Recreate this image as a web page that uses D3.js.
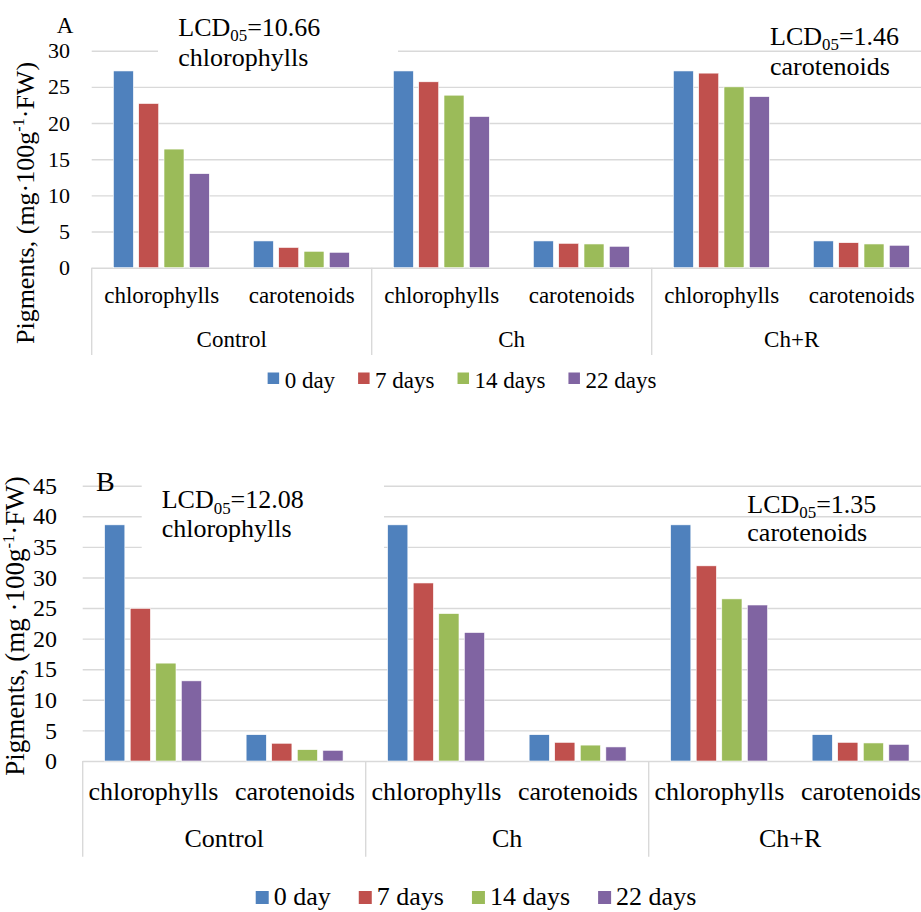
<!DOCTYPE html>
<html>
<head>
<meta charset="utf-8">
<script src="https://cdn.jsdelivr.net/npm/d3@7"></script>
<style>
  body { margin: 0; background: #fff; }
  svg { display: block; }
</style>
</head>
<body>
<div id="chart"></div>
<script>
// ---- data ----
const groups = ["Control", "Ch", "Ch+R"];
const pigments = ["chlorophylls", "carotenoids"];
const series = ["0 day", "7 days", "14 days", "22 days"];
const colors = ["#4f81bd", "#c0504d", "#9bbb59", "#8064a2"];

// values[group][pigment][series]
const valuesA = [
  [[27.2, 22.7, 16.4, 13.0], [3.7, 2.8, 2.27, 2.13]],
  [[27.2, 25.7, 23.85, 20.9], [3.7, 3.37, 3.28, 2.96]],
  [[27.2, 26.9, 25.0, 23.65], [3.7, 3.46, 3.28, 3.1]]
];
const valuesB = [
  [[38.6, 24.95, 16.0, 13.1], [4.3, 2.9, 1.85, 1.75]],
  [[38.6, 29.1, 24.1, 21.0], [4.3, 3.05, 2.6, 2.3]],
  [[38.6, 31.9, 26.5, 25.5], [4.3, 3.05, 2.95, 2.72]]
];
const ticksA = [0, 5, 10, 15, 20, 25, 30];
const ticksB = [0, 5, 10, 15, 20, 25, 30, 35, 40, 45];
const lcdA = [["10.66", "chlorophylls"], ["1.46", "carotenoids"]];
const lcdB = [["12.08", "chlorophylls"], ["1.35", "carotenoids"]];

// ---- layout ----
const W = 921, H = 912;
const grid = "#d9d9d9";
const FONT = "'Liberation Serif', 'Times New Roman', serif";

const svg = d3.select("#chart").append("svg")
  .attr("width", W).attr("height", H)
  .attr("viewBox", [0, 0, W, H])
  .attr("font-family", FONT);

const panels = [
  {
    letter: "A", values: valuesA, ticks: ticksA, max: 30, lcd: lcdA,
    left: 91.7, band: 140, y0: 267.7, yTop: 50.7,
    tickPad: 21.7, tickFont: 22, catFont: 23, catY: 303, groupY: 346.7, sepBottom: 355,
    yLabel: ["Pigments, (mg·100g", "·FW)"], yLabelX: 33.5, yLabelY: 203, yLabelFont: 26,
    letterX: 56.7, letterY: 33.3, letterFont: 23,
    notes: [{ x: 178.3, y: 36 }, { x: 770, y: 45 }], noteGap: 30, noteFont: 26,
    box: { x: 158, y: 8, w: 240, h: 70 },
    legendCx: 462, legendY: 388, legendFont: 23, sq: 11.5, sqTop: 372.5, sqGap: 5.5, itemGap: 23
  },
  {
    letter: "B", values: valuesB, ticks: ticksB, max: 45, lcd: lcdB,
    left: 82.7, band: 141.5, y0: 761, yTop: 485.7,
    tickPad: 25.7, tickFont: 24, catFont: 26, catY: 800, groupY: 847.3, sepBottom: 856.7,
    yLabel: ["Pigments, (mg ·100g", "·FW)"], yLabelX: 24, yLabelY: 626, yLabelFont: 27,
    letterX: 96, letterY: 490.7, letterFont: 28,
    notes: [{ x: 161.7, y: 508.3 }, { x: 747.3, y: 512.7 }], noteGap: 28.5, noteFont: 26,
    box: { x: 141.7, y: 468, w: 242.3, h: 94 },
    legendCx: 476, legendY: 905, legendFont: 26, sq: 13, sqTop: 891, sqGap: 5, itemGap: 28
  }
];

panels.forEach(drawPanel);

function drawPanel(p) {
  const g = svg.append("g").attr("font-family", FONT);
  const cats = [];
  groups.forEach((gr, gi) => pigments.forEach((pg, pi) =>
    cats.push({ key: gr + "|" + pg, group: gr, pigment: pg, vals: p.values[gi][pi] })));

  const right = p.left + cats.length * p.band;
  const x0 = d3.scaleBand().domain(cats.map(d => d.key)).range([p.left, right]).padding(0);
  const x1 = d3.scaleBand().domain(series)
    .range([p.band * 0.155, p.band * 0.84]).paddingInner(0.21).paddingOuter(0);
  const y = d3.scaleLinear().domain([0, p.max]).range([p.y0, p.yTop]);

  // gridlines + tick labels
  const yAxis = g.append("g")
    .attr("transform", `translate(${p.left},0)`)
    .call(d3.axisLeft(y).tickValues(p.ticks).tickSize(-(right - p.left)).tickPadding(p.tickPad));
  yAxis.attr("font-family", FONT).attr("font-size", p.tickFont);
  yAxis.select(".domain").remove();
  yAxis.selectAll(".tick line").attr("stroke", grid).attr("stroke-width", 1.4);
  yAxis.selectAll(".tick text").attr("fill", "#000");

  // white text box behind left annotation
  g.append("rect")
    .attr("x", p.box.x).attr("y", p.box.y)
    .attr("width", p.box.w).attr("height", p.box.h)
    .attr("fill", "#fff");

  // bars
  const catG = g.selectAll(".cat").data(cats).join("g")
    .attr("class", "cat")
    .attr("transform", d => `translate(${x0(d.key)},0)`);
  catG.selectAll("rect")
    .data(d => d.vals.map((v, i) => ({ s: series[i], v, c: colors[i] })))
    .join("rect")
    .attr("x", d => x1(d.s))
    .attr("width", x1.bandwidth())
    .attr("y", d => y(d.v))
    .attr("height", d => y(0) - y(d.v))
    .attr("fill", d => d.c)
    .attr("stroke", "#fff")
    .attr("stroke-width", 0.6);

  // separators of the grouped category axis
  d3.range(0, groups.length + 1).forEach(i => {
    const xx = p.left + i * pigments.length * p.band;
    g.append("line")
      .attr("x1", xx).attr("x2", xx)
      .attr("y1", p.y0).attr("y2", p.sepBottom)
      .attr("stroke", grid).attr("stroke-width", 1.4);
  });

  // category labels
  g.selectAll(".catlab").data(cats).join("text")
    .attr("class", "catlab")
    .attr("x", d => x0(d.key) + p.band / 2)
    .attr("y", p.catY)
    .attr("text-anchor", "middle")
    .attr("font-size", p.catFont)
    .text(d => d.pigment);

  g.selectAll(".grplab").data(groups).join("text")
    .attr("class", "grplab")
    .attr("x", (d, i) => p.left + (i * 2 + 1) * p.band)
    .attr("y", p.groupY)
    .attr("text-anchor", "middle")
    .attr("font-size", p.catFont)
    .text(d => d);

  // y axis title
  const yl = g.append("text")
    .attr("transform", `translate(${p.yLabelX},${p.yLabelY}) rotate(-90)`)
    .attr("text-anchor", "middle")
    .attr("font-size", p.yLabelFont);
  yl.append("tspan").text(p.yLabel[0]);
  yl.append("tspan").attr("dy", -p.yLabelFont * 0.38)
    .attr("font-size", p.yLabelFont * 0.62).text("-1");
  yl.append("tspan").attr("dy", p.yLabelFont * 0.38).text(p.yLabel[1]);

  // panel letter
  g.append("text")
    .attr("x", p.letterX).attr("y", p.letterY)
    .attr("font-size", p.letterFont)
    .text(p.letter);

  // LCD05 notes
  p.lcd.forEach((n, i) => {
    const pos = p.notes[i];
    const t = g.append("text")
      .attr("x", pos.x).attr("y", pos.y)
      .attr("font-size", p.noteFont);
    t.append("tspan").text("LCD");
    t.append("tspan").attr("dy", p.noteFont * 0.2)
      .attr("font-size", p.noteFont * 0.65).text("05");
    t.append("tspan").attr("dy", -p.noteFont * 0.2).text("=" + n[0]);
    g.append("text")
      .attr("x", pos.x).attr("y", pos.y + p.noteGap)
      .attr("font-size", p.noteFont)
      .text(n[1]);
  });

  // legend
  const leg = g.append("g");
  const items = leg.selectAll("g").data(series).join("g");
  items.append("rect")
    .attr("width", p.sq).attr("height", p.sq)
    .attr("y", p.sqTop)
    .attr("fill", (d, i) => colors[i]);
  items.append("text")
    .attr("x", p.sq + p.sqGap)
    .attr("y", p.legendY)
    .attr("font-size", p.legendFont)
    .text(d => d);
  let cx = 0;
  items.each(function () {
    const w = p.sq + p.sqGap + d3.select(this).select("text").node().getComputedTextLength();
    d3.select(this).attr("transform", `translate(${cx},0)`);
    cx += w + p.itemGap;
  });
  const total = cx - p.itemGap;
  leg.attr("transform", `translate(${p.legendCx - total / 2},0)`);
}
</script>
</body>
</html>
